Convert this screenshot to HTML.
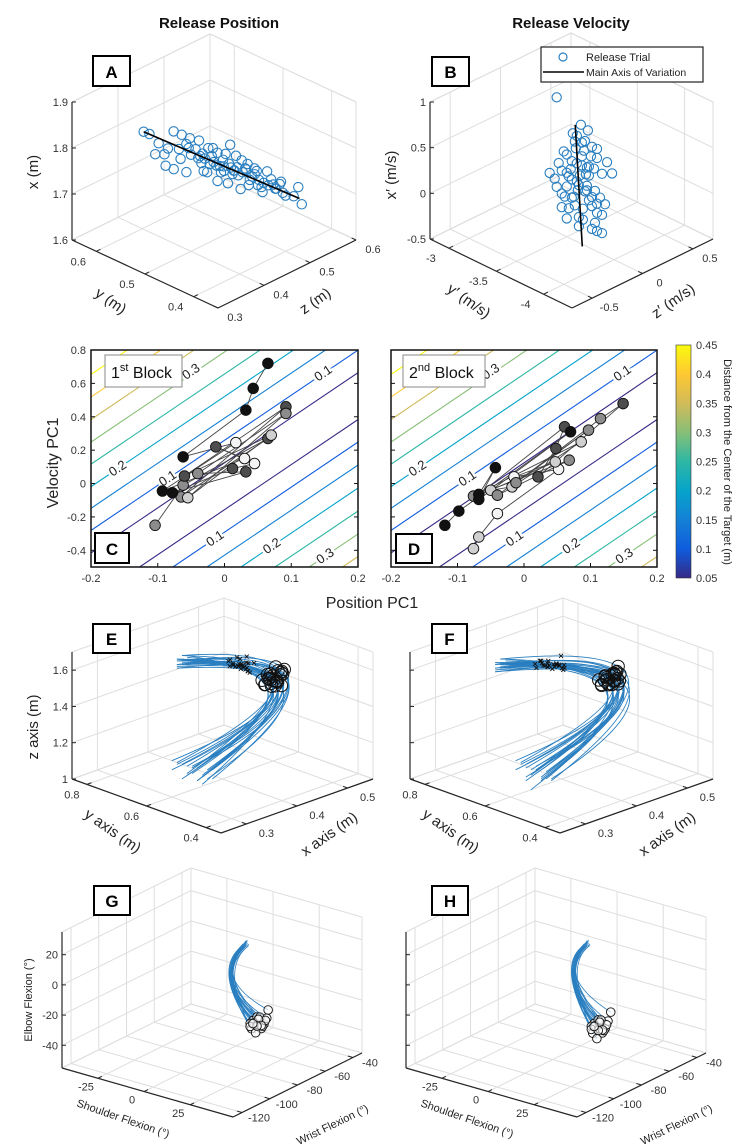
<!DOCTYPE html>
<html><head><meta charset="utf-8">
<style>
html,body{margin:0;padding:0;background:#fff;}
svg{display:block;font-family:"Liberation Sans",sans-serif;}
.tk{font-size:11px;fill:#333;}
.al{font-size:15px;fill:#222;}
.ttl{font-size:15px;font-weight:bold;fill:#111;}
.lt{font-size:17px;font-weight:bold;fill:#000;}
</style></head>
<body>
<svg id="fig" width="750" height="1147" viewBox="0 0 750 1147">
<defs>
<linearGradient id="parula" x1="0" y1="1" x2="0" y2="0">
<stop offset="0" stop-color="#352a87"/><stop offset="0.125" stop-color="#0f5cdd"/><stop offset="0.25" stop-color="#1481d6"/><stop offset="0.375" stop-color="#06a4ca"/><stop offset="0.5" stop-color="#2eb7a4"/><stop offset="0.625" stop-color="#87bf77"/><stop offset="0.75" stop-color="#d1bb59"/><stop offset="0.875" stop-color="#fec832"/><stop offset="1" stop-color="#f9fb0e"/>
</linearGradient>
<clipPath id="clipC"><rect x="91" y="350" width="267" height="217"/></clipPath>
<clipPath id="clipD"><rect x="391" y="350" width="266" height="217"/></clipPath>
</defs>
<text class="ttl" x="219" y="28" text-anchor="middle">Release Position</text>
<text class="ttl" x="571" y="28" text-anchor="middle">Release Velocity</text>
<g id="gA"></g>
<g id="gB"></g>
<g id="gC"></g>
<g id="gD"></g>
<g id="gE"></g>
<g id="gF"></g>
<g id="gG"></g>
<g id="gH"></g>
<g id="labels">
<text class="al" transform="translate(38,172) rotate(-90)" text-anchor="middle">x (m)</text>
<text class="al" transform="translate(108,305) rotate(35)" text-anchor="middle">y (m)</text>
<text class="al" transform="translate(318,305) rotate(-35)" text-anchor="middle">z (m)</text>
<text class="al" transform="translate(396,175) rotate(-90)" text-anchor="middle">x′ (m/s)</text>
<text class="al" transform="translate(466,305) rotate(35)" text-anchor="middle">y′ (m/s)</text>
<text class="al" transform="translate(676,305) rotate(-35)" text-anchor="middle">z′ (m/s)</text>
<text style="font-size:16px;fill:#222" transform="translate(58,463) rotate(-90)" text-anchor="middle">Velocity PC1</text>
<text style="font-size:16px;fill:#222" x="372" y="608" text-anchor="middle">Position PC1</text>
<text style="font-size:11px;fill:#222" transform="translate(724,462) rotate(90)" text-anchor="middle">Distance from the Center of the Target (m)</text>
<text class="al" transform="translate(38,727) rotate(-90)" text-anchor="middle">z axis (m)</text>
<text class="al" transform="translate(110,835) rotate(35)" text-anchor="middle">y axis (m)</text>
<text class="al" transform="translate(332,838) rotate(-35)" text-anchor="middle">x axis (m)</text>
<text class="al" transform="translate(448,835) rotate(35)" text-anchor="middle">y axis (m)</text>
<text class="al" transform="translate(670,838) rotate(-35)" text-anchor="middle">x axis (m)</text>
<text style="font-size:11px;fill:#222" transform="translate(32,1000) rotate(-90)" text-anchor="middle">Elbow Flexion (°)</text>
<text style="font-size:11px;fill:#222" transform="translate(122,1122) rotate(19)" text-anchor="middle">Shoulder Flexion (°)</text>
<text style="font-size:11px;fill:#222" transform="translate(334,1128) rotate(-26)" text-anchor="middle">Wrist Flexion (°)</text>
<text style="font-size:11px;fill:#222" transform="translate(466,1122) rotate(19)" text-anchor="middle">Shoulder Flexion (°)</text>
<text style="font-size:11px;fill:#222" transform="translate(678,1128) rotate(-26)" text-anchor="middle">Wrist Flexion (°)</text>
</g>
<g>
<rect x="541" y="47" width="162" height="35" fill="#fff" stroke="#222" stroke-width="1.2"/>
<circle cx="563" cy="57" r="4" fill="none" stroke="#2a7fc0" stroke-width="1.2"/>
<text x="586" y="61" style="font-size:11px;fill:#222">Release Trial</text>
<line x1="543" y1="72" x2="584" y2="72" stroke="#000" stroke-width="1.5"/>
<text x="586" y="76" style="font-size:10.5px;fill:#222">Main Axis of Variation</text>
</g>
<g>
<rect x="93" y="56" width="37" height="30" fill="#fff" stroke="#000" stroke-width="2"/><text class="lt" x="111.5" y="78" text-anchor="middle">A</text>
<rect x="432" y="57" width="37" height="29" fill="#fff" stroke="#000" stroke-width="2"/><text class="lt" x="450.5" y="78" text-anchor="middle">B</text>
<rect x="95" y="533" width="34" height="30" fill="#fff" stroke="#000" stroke-width="2"/><text class="lt" x="112" y="555" text-anchor="middle">C</text>
<rect x="396" y="534" width="36" height="29" fill="#fff" stroke="#000" stroke-width="2"/><text class="lt" x="414" y="555" text-anchor="middle">D</text>
<rect x="93" y="624" width="37" height="29" fill="#fff" stroke="#000" stroke-width="2"/><text class="lt" x="111.5" y="645" text-anchor="middle">E</text>
<rect x="432" y="624" width="35" height="29" fill="#fff" stroke="#000" stroke-width="2"/><text class="lt" x="449.5" y="645" text-anchor="middle">F</text>
<rect x="94" y="886" width="36" height="29" fill="#fff" stroke="#000" stroke-width="2"/><text class="lt" x="112" y="907" text-anchor="middle">G</text>
<rect x="432" y="886" width="36" height="29" fill="#fff" stroke="#000" stroke-width="2"/><text class="lt" x="450" y="907" text-anchor="middle">H</text>
</g>
</svg>
<script>
// ---------- Panel A data (release position) ----------
const yA=[0.55,0.54,0.54,0.53,0.53,0.53,0.52,0.52,0.52,0.52,0.51,0.51,0.51,0.51,0.50,0.50,0.50,0.50,0.50,0.49,0.49,0.49,0.49,0.49,0.48,0.48,0.48,0.48,0.48,0.48,0.47,0.47,0.47,0.47,0.47,0.47,0.46,0.46,0.46,0.46,0.46,0.45,0.45,0.45,0.45,0.45,0.44,0.44,0.44,0.44,0.43,0.43,0.43,0.43,0.42,0.42,0.42,0.41,0.41,0.40,
 0.50,0.49,0.48,0.47,0.46,0.45,0.44,0.43,0.49,0.47,0.45,0.48,0.46,0.44,0.50,0.52,0.42,0.47,0.45,0.43];
const zA=[0.350,0.372,0.352,0.394,0.354,0.374,0.401,0.371,0.411,0.366,0.408,0.388,0.428,0.373,0.410,0.430,0.395,0.420,0.390,0.437,0.412,0.447,0.417,0.427,0.454,0.414,0.444,0.424,0.464,0.434,0.461,0.431,0.466,0.426,0.451,0.471,0.448,0.468,0.438,0.478,0.458,0.485,0.455,0.480,0.465,0.495,0.482,0.502,0.462,0.492,0.484,0.509,0.494,0.519,0.501,0.521,0.511,0.528,0.538,0.535,
 0.425,0.405,0.450,0.440,0.470,0.475,0.490,0.500,0.430,0.455,0.490,0.428,0.452,0.475,0.400,0.395,0.515,0.438,0.470,0.505];
const xA=[1.860,1.829,1.859,1.849,1.819,1.809,1.843,1.828,1.818,1.793,1.837,1.802,1.822,1.787,1.817,1.787,1.827,1.797,1.777,1.811,1.791,1.796,1.771,1.816,1.795,1.775,1.760,1.805,1.810,1.780,1.760,1.785,1.790,1.755,1.780,1.745,1.764,1.784,1.749,1.759,1.774,1.763,1.733,1.748,1.773,1.733,1.733,1.753,1.743,1.713,1.742,1.717,1.732,1.722,1.726,1.701,1.736,1.701,1.716,1.685,
 1.800,1.805,1.770,1.770,1.757,1.743,1.725,1.742,1.780,1.770,1.755,1.790,1.770,1.760,1.810,1.815,1.710,1.795,1.780,1.728];
const axisA={y:[0.55,0.40],z:[0.35,0.53],x:[1.86,1.70]};
// ---------- Panel B data (release velocity) ----------
const yB=-3.5;
const zB=[0.12,0.05,0.2,-0.05,0.0,0.15,0.25,0.1,0.3,-0.1,0.18,0.08,-0.02,0.22,0.35,0.28,0.0,0.12,0.25,0.3,0.35,0.05,-0.08,0.15,0.1,0.2,0.02,-0.05,0.3,0.4,0.13,0.07,0.17,0.27,-0.12,0.22,0.09,0.0,0.33,0.16,0.04,0.24,0.11,0.19,-0.03,0.06,0.21,0.45,0.14,0.38,0.3,0.35,0.25,-0.17,-0.1,
 0.1,0.2,0.0,0.15,0.25,0.05,0.18,0.3,0.08,0.12,-0.05,0.22,0.28,0.02,0.16];
const xB=[0.0,0.1,0.15,0.25,0.4,0.45,0.35,0.55,0.2,0.1,-0.1,-0.2,-0.05,0.05,0.0,-0.15,-0.3,-0.35,-0.3,-0.4,-0.45,0.3,0.35,0.2,0.25,-0.05,0.15,-0.15,0.3,0.1,0.1,-0.1,0.35,0.1,0.2,-0.22,0.42,0.05,-0.25,-0.28,0.22,0.25,-0.05,0.08,0.45,0.6,0.55,-0.05,0.65,-0.35,-0.6,-0.65,-0.55,0.29,1.08,
 0.05,-0.1,0.2,0.3,-0.2,-0.1,0.45,-0.3,0.5,-0.45,0.0,0.15,-0.5,-0.2,-0.4];
const axisB={z:[0.084,0.154],x:[0.68,-0.69]};
// ---------- Panels C & D data ----------
const posTicks=[-0.2,-0.1,0,0.1,0.2];
const velTicks=[-0.4,-0.2,0,0.2,0.4,0.6,0.8];
const levels=[0.05,0.1,0.15,0.2,0.25,0.3,0.35,0.4,0.45];
const interceptUpper=[-0.046,-0.096,-0.145,-0.193,-0.243,-0.292,-0.342,-0.392,-0.442];
const interceptLower=[0.058,0.108,0.159,0.21,0.261,0.312,0.362,0.412,0.462];
const contourSlope=2.7;
const labelText=['0.2','0.1','0.1','0.1','0.2','0.3','0.3'];
const labelPos=[-0.16,-0.085,0.148,-0.014,0.071,0.151,-0.05];
const labelVel=[0.09,0.03,0.66,-0.33,-0.375,-0.435,0.67];
const posC=[-0.104,-0.062,0.065,-0.065,0.092,-0.06,0.07,-0.055,0.092,-0.04,0.032,-0.078,0.012,0.045,-0.013,0.03,-0.093,0.017,-0.062,0.032,0.043,0.065];
const velC=[-0.25,-0.01,0.27,-0.08,0.46,0.045,0.29,-0.085,0.42,0.06,0.07,-0.055,0.09,0.12,0.22,0.15,-0.045,0.245,0.16,0.44,0.57,0.72];
const shadeC=[2,2,1,2,1,1,3,3,2,2,1,0,1,4,1,4,0,4,0,0,0,0];
const posD=[-0.076,-0.068,-0.04,0.052,-0.015,0.047,-0.05,-0.018,0.086,-0.076,0.068,-0.04,0.097,-0.012,0.115,0.149,0.021,0.048,0.061,-0.068,-0.043,-0.068,0.07,-0.098,-0.119];
const velD=[-0.39,-0.32,-0.18,0.085,0.04,0.13,-0.04,-0.02,0.25,-0.075,0.14,-0.07,0.32,0.005,0.389,0.479,0.04,0.21,0.34,-0.065,0.095,-0.095,0.31,-0.165,-0.25];
const shadeD=[3,3,4,4,4,3,3,3,3,2,2,2,2,2,2,1,1,1,1,0,0,0,0,0,0];
const cbTicks=[0.05,0.1,0.15,0.2,0.25,0.3,0.35,0.4,0.45];
// ---------- Panels E & F data (hand trajectories) ----------
const trajY=0.6;
const topXE=[.31,.32,.31,.33,.32,.31,.32,.33,.31,.32,.33,.32,.31,.32,.33,.31,.32,.32,.31,.33,.32,.31,.33,.32,.31];
const topZE=[1.74,1.73,1.72,1.75,1.71,1.74,1.76,1.72,1.70,1.73,1.74,1.71,1.75,1.72,1.73,1.70,1.74,1.76,1.71,1.72,1.73,1.75,1.70,1.74,1.72];
const apexXE=[.50,.51,.52,.49,.53,.50,.51,.52,.50,.53,.49,.51,.52,.50,.51,.53,.50,.52,.51,.49,.52,.50,.53,.51,.50];
const apexZE=[1.40,1.38,1.42,1.36,1.40,1.44,1.39,1.37,1.41,1.43,1.38,1.40,1.36,1.42,1.39,1.41,1.37,1.43,1.40,1.38,1.42,1.39,1.41,1.36,1.40];
const endXE=[.32,.34,.36,.30,.38,.33,.35,.37,.31,.36,.34,.33,.37,.35,.32,.38,.30,.36,.34,.33,.35,.31,.37,.34,.36];
const endZE=[1.08,1.12,1.05,1.15,1.02,1.10,1.04,1.13,1.18,1.06,1.09,1.14,1.03,1.11,1.16,1.07,1.20,1.05,1.12,1.09,1.04,1.17,1.08,1.13,1.01];
const relTE=[.42,.40,.44,.38,.41,.43,.39,.45,.40,.42,.37,.44,.41,.39,.43,.40,.42,.38,.44,.41,.40,.43,.39,.42,.41];
const markTE=[.18,.22,.15,.25,.20,.17,.23,.19,.21,.16,.24,.18,.20,.22,.17,.19,.23,.21,.16,.25,.18,.20,.22,.17,.19];
const topXF=[.27,.28,.27,.29,.28,.27,.28,.29,.27,.28,.29,.28,.27,.28,.29,.27,.28,.28,.27,.29,.28,.27,.29,.28,.27];
const topZF=[1.76,1.75,1.74,1.77,1.73,1.76,1.78,1.74,1.72,1.75,1.76,1.73,1.77,1.74,1.75,1.72,1.76,1.78,1.73,1.74,1.75,1.77,1.72,1.76,1.74];
const apexXF=[.50,.52,.51,.49,.53,.51,.50,.52,.50,.52,.49,.51,.53,.50,.51,.52,.50,.53,.51,.49,.52,.50,.52,.51,.50];
const apexZF=[1.41,1.39,1.43,1.37,1.40,1.44,1.38,1.37,1.42,1.43,1.39,1.40,1.36,1.42,1.40,1.41,1.38,1.43,1.40,1.37,1.42,1.39,1.41,1.37,1.40];
const endXF=[.33,.35,.37,.31,.38,.34,.36,.37,.32,.36,.35,.33,.38,.35,.33,.37,.31,.36,.34,.33,.36,.32,.37,.35,.34];
const endZF=[1.06,1.10,1.03,1.14,1.01,1.08,1.03,1.12,1.17,1.05,1.08,1.13,1.02,1.10,1.15,1.06,1.19,1.04,1.11,1.08,1.03,1.16,1.07,1.12,1.00];
const relTF=[.40,.42,.43,.39,.41,.44,.40,.43,.41,.42,.38,.44,.41,.40,.43,.41,.42,.39,.44,.40,.41,.43,.40,.42,.42];
const markTF=[.12,.15,.10,.18,.14,.11,.16,.13,.15,.10,.17,.12,.14,.16,.11,.13,.17,.15,.10,.18,.12,.14,.16,.11,.13];
// ---------- Panels G & H data (joint angles) ----------
const shoulderFix=0;
const startWG=[-53,-55,-52,-54,-56,-53,-51,-55,-54,-52,-57,-53,-54,-55,-52,-53,-56,-54,-51,-55];
const startEG=[9,8,10,7,9,11,8,10,6,9,8,10,7,9,11,8,9,10,7,8];
const midWG=[-63,-64,-62,-63,-65,-62,-63,-64,-61,-63,-64,-62,-63,-65,-62,-63,-64,-62,-63,-64];
const midEG=[-10,-12,-9,-11,-8,-13,-10,-9,-12,-11,-10,-8,-12,-9,-11,-10,-13,-9,-11,-10];
const endWG=[-44,-48,-40,-46,-50,-42,-38,-45,-49,-41,-47,-43,-39,-46,-44,-50,-42,-37,-45,-48];
const endEG=[-46,-44,-50,-48,-45,-52,-47,-43,-49,-51,-46,-44,-48,-53,-45,-47,-50,-42,-49,-46];
const startWH=[-55,-57,-54,-56,-58,-55,-53,-57,-56,-54,-59,-55,-56,-57,-54,-55,-58,-56,-53,-57];
const startEH=[10,9,11,8,10,12,9,11,7,10,9,11,8,10,12,9,10,11,8,9];
const midWH=[-64,-65,-63,-64,-66,-63,-64,-65,-62,-64,-65,-63,-64,-66,-63,-64,-65,-63,-64,-65];
const midEH=[-9,-11,-8,-10,-7,-12,-9,-8,-11,-10,-9,-7,-11,-8,-10,-9,-12,-8,-10,-9];
const endWH=[-46,-50,-42,-48,-52,-44,-40,-47,-51,-43,-49,-45,-41,-48,-46,-52,-44,-38,-47,-50];
const endEH=[-47,-45,-52,-49,-46,-54,-48,-44,-51,-53,-47,-45,-50,-56,-46,-48,-52,-43,-51,-47];

const NS='http://www.w3.org/2000/svg';
function mk(tag,attrs,parent){const e=document.createElementNS(NS,tag);for(const k in attrs)e.setAttribute(k,attrs[k]);parent.appendChild(e);return e;}
const GRID='#dedede',AX='#262626',BLUE='#2a7fc0';
function P(b,u,v,w){return [b.L[0]+u*(b.F[0]-b.L[0])+v*(b.R[0]-b.F[0]), b.L[1]+u*(b.F[1]-b.L[1])+v*(b.R[1]-b.F[1])-w*b.H];}
function seg(g,a,c,col,sw){return mk('line',{x1:a[0],y1:a[1],x2:c[0],y2:c[1],stroke:col,'stroke-width':sw},g);}

function drawBox(g,b,noWLabels){
  const us=[0,1].concat(b.uT.map(t=>t.f)), vs=[0,1].concat(b.vT.map(t=>t.f)), ws=[0,1].concat(b.wT.map(t=>t.f));
  us.forEach(u=>{
    let e=seg(g,P(b,u,0,0),P(b,u,1,0),GRID,1);
    
    
    e=seg(g,P(b,u,1,0),P(b,u,1,1),GRID,1);
    
    
  });
  vs.forEach(v=>{
    let e=seg(g,P(b,0,v,0),P(b,1,v,0),GRID,1);
    
    
    e=seg(g,P(b,0,v,0),P(b,0,v,1),GRID,1);
    
    
  });
  ws.forEach(w=>{
    let e=seg(g,P(b,0,0,w),P(b,0,1,w),GRID,1);
    
    
    e=seg(g,P(b,0,1,w),P(b,1,1,w),GRID,1);
    
    
  });
  let e=seg(g,P(b,0,0,0),P(b,0,0,1),AX,1.2);
  
  
  e=seg(g,P(b,0,0,0),P(b,1,0,0),AX,1.2);
  
  
  e=seg(g,P(b,1,0,0),P(b,1,1,0),AX,1.2);
  
  
  const fs=b.fs||11;
  b.wT.forEach(t=>{
    const p=P(b,0,0,t.f);
    let k=seg(g,p,[p[0]+4,p[1]],AX,1);
    
    
    if(!noWLabels){
      const tx=mk('text',{x:p[0]-4,y:p[1]+4,'text-anchor':'end',class:'tk','font-size':fs},g);
      tx.textContent=t.l;
      
      
    }
  });
  b.uT.forEach(t=>{
    const p=P(b,t.f,0,0);
    let k=seg(g,p,[p[0]+(b.R[0]-b.F[0])*0.03,p[1]+(b.R[1]-b.F[1])*0.03],AX,1);
    
    
    const tx=mk('text',{x:p[0]+b.uo[0],y:p[1]+b.uo[1],'text-anchor':'middle',class:'tk','font-size':fs},g);
    tx.textContent=t.l;
    
    
  });
  b.vT.forEach(t=>{
    const p=P(b,1,t.f,0);
    let k=seg(g,p,[p[0]-(b.F[0]-b.L[0])*0.03,p[1]-(b.F[1]-b.L[1])*0.03],AX,1);
    
    
    const tx=mk('text',{x:p[0]+b.vo[0],y:p[1]+b.vo[1],'text-anchor':'middle',class:'tk','font-size':fs},g);
    tx.textContent=t.l;
    
    
  });
}

// ---------- Panel A ----------
const bA={L:[72,240],F:[218,308],R:[356,240],H:138,uo:[-18,14],vo:[17,13],
  uT:[{f:1/6,l:'0.6'},{f:0.5,l:'0.5'},{f:5/6,l:'0.4'}],
  vT:[{f:0,l:'0.3'},{f:1/3,l:'0.4'},{f:2/3,l:'0.5'},{f:1,l:'0.6'}],
  wT:[{f:0,l:'1.6'},{f:1/3,l:'1.7'},{f:2/3,l:'1.8'},{f:1,l:'1.9'}]};
const gA=document.getElementById('gA');
drawBox(gA,bA);
function pA(y,z,x){return P(bA,(0.65-y)/0.3,(z-0.3)/0.3,(x-1.6)/0.3);}
for(let i=0;i<yA.length;i++){
  const p=pA(yA[i],zA[i],xA[i]);
  const c=mk('circle',{cx:p[0],cy:p[1],r:4.7,fill:'none',stroke:BLUE,'stroke-width':1.1},gA);
  
  
}
{const a=pA(axisA.y[0],axisA.z[0],axisA.x[0]),b=pA(axisA.y[1],axisA.z[1],axisA.x[1]);
 const l=seg(gA,a,b,'#000',1.6);
 
 }

// ---------- Panel B ----------
const bB={L:[430,239],F:[572,308],R:[713,239],H:137,uo:[-18,14],vo:[17,13],
  uT:[{f:0.133,l:'-3'},{f:0.467,l:'-3.5'},{f:0.8,l:'-4'}],
  vT:[{f:0.143,l:'-0.5'},{f:0.5,l:'0'},{f:0.857,l:'0.5'}],
  wT:[{f:0,l:'-0.5'},{f:1/3,l:'0'},{f:2/3,l:'0.5'},{f:1,l:'1'}]};
const gB=document.getElementById('gB');
drawBox(gB,bB);
function pB(y,z,x){return P(bB,(-2.8-y)/1.5,(z+0.7)/1.4,(x+0.5)/1.5);}
for(let i=0;i<zB.length;i++){
  const p=pB(yB,zB[i],xB[i]);
  const c=mk('circle',{cx:p[0],cy:p[1],r:4.6,fill:'none',stroke:BLUE,'stroke-width':1.1},gB);
  
  
}
{const a=pB(yB,axisB.z[0],axisB.x[0]),b=pB(yB,axisB.z[1],axisB.x[1]);
 const l=seg(gB,a,b,'#000',1.6);
 
 }

// ---------- Panels C & D ----------
const parula=['#352a87','#0f5cdd','#1481d6','#06a4ca','#2eb7a4','#87bf77','#d1bb59','#fec832','#f9fb0e'];
const shadeCol=['#111111','#4d4d4d','#8c8c8c','#d0d0d0','#f4f4f4'];
function drawPC(g,x0,x1,clip,pos,vel,shade,showY,blockNum,blockSup){
  const sx=p=>x0+(p+0.2)/0.4*(x1-x0);
  const sy=v=>350+(0.8-v)/1.3*217;
  const cg=mk('g',{'clip-path':'url(#'+clip+')'},g);
  
  
  const addLine=(c,lv)=>{
    const pa=c+(-0.5)/contourSlope, pb=c+0.8/contourSlope;
    const l=mk('line',{x1:sx(pa),y1:sy(-0.5),x2:sx(pb),y2:sy(0.8),stroke:parula[levels.indexOf(lv)],'stroke-width':1.1},cg);
    
    
  };
  levels.forEach((lv,i)=>{addLine(interceptUpper[i],lv);addLine(interceptLower[i],lv);});
  const ang=-Math.atan((contourSlope*217/1.3)/((x1-x0)/0.4))*180/Math.PI;
  labelText.forEach((s,i)=>{
    const x=sx(labelPos[i]),y=sy(labelVel[i]);
    const t=mk('text',{x:0,y:4,transform:'translate('+x+','+y+') rotate('+ang+')','text-anchor':'middle','font-size':13,fill:'#222',stroke:'#fff','stroke-width':5,'paint-order':'stroke'},cg);
    t.textContent=s;
    
    
  });
  for(let i=1;i<pos.length;i++){
    const l=mk('line',{x1:sx(pos[i-1]),y1:sy(vel[i-1]),x2:sx(pos[i]),y2:sy(vel[i]),stroke:'#444','stroke-width':0.9},g);
    
    
  }
  for(let i=0;i<pos.length;i++){
    const c=mk('circle',{cx:sx(pos[i]),cy:sy(vel[i]),r:5.3,fill:shadeCol[shade[i]],stroke:'#111','stroke-width':0.9},g);
    
    
  }
  const fr=mk('rect',{x:x0,y:350,width:x1-x0,height:217,fill:'none',stroke:'#111','stroke-width':1.5},g);
  
  
  posTicks.forEach(p=>{
    const k=mk('line',{x1:sx(p),y1:567,x2:sx(p),y2:563,stroke:'#111'},g);
    
    
    const t=mk('text',{x:sx(p),y:582,'text-anchor':'middle',class:'tk','font-size':12},g);
    t.textContent=p===0?'0':String(p);
    
    
  });
  velTicks.forEach(v=>{
    const k=mk('line',{x1:x0,y1:sy(v),x2:x0+4,y2:sy(v),stroke:'#111'},g);
    
    
    const k2=mk('line',{x1:x1,y1:sy(v),x2:x1-4,y2:sy(v),stroke:'#111'},g);
    
    
    if(showY){
      const t=mk('text',{x:x0-5,y:sy(v)+4,'text-anchor':'end',class:'tk','font-size':12},g);
      t.textContent=v===0?'0':String(v);
      
      
    }
  });
  const bx=x0+(blockSup==='st'?14:12);
  const br=mk('rect',{x:bx,y:355,width:blockSup==='st'?77:82,height:32,fill:'#fff',stroke:'#888','stroke-width':1},g);
  
  
  const bt=mk('text',{x:bx+6,y:378,'font-size':16,fill:'#111'},g);
  
  
  bt.innerHTML=blockNum+'<tspan dy="-7" font-size="11">'+blockSup+'</tspan><tspan dy="7"> Block</tspan>';
}
drawPC(document.getElementById('gC'),91,358,'clipC',posC,velC,shadeC,true,'1','st');
drawPC(document.getElementById('gD'),391,657,'clipD',posD,velD,shadeD,false,'2','nd');
{
  const g=document.getElementById('gD');
  const cb=mk('rect',{x:676,y:345,width:15,height:233,fill:'url(#parula)',stroke:'#333','stroke-width':0.6},g);
  
  
  cbTicks.forEach(v=>{
    const y=578-(v-0.05)/0.4*233;
    const t=mk('text',{x:696,y:y+4,class:'tk','font-size':12},g);
    t.textContent=String(v);
    
    
  });
}

// ---------- Panels E & F ----------
function drawTraj(g,b,topX,topZ,apexX,apexZ,endX,endZ,relT,markT,showW){
  drawBox(g,b,!showW);
  const pr=(x,z)=>P(b,(0.85-trajY)/0.5,(x-0.25)/0.3,(z-1)/0.7);
  const circles=[],marks=[];
  for(let i=0;i<topX.length;i++){
    const T=pr(topX[i],topZ[i]),A=pr(apexX[i],apexZ[i]),B=pr(endX[i],endZ[i]);
    const C=[2*A[0]-(T[0]+B[0])/2,2*A[1]-(T[1]+B[1])/2];
    const q=t=>[(1-t)*(1-t)*T[0]+2*t*(1-t)*C[0]+t*t*B[0],(1-t)*(1-t)*T[1]+2*t*(1-t)*C[1]+t*t*B[1]];
    const p=mk('path',{d:'M'+T[0]+','+T[1]+' Q'+C[0]+','+C[1]+' '+B[0]+','+B[1],fill:'none',stroke:BLUE,'stroke-width':0.9},g);
    
    
    circles.push(q(relT[i]));marks.push(q(markT[i]));
  }
  marks.forEach(m=>{
    const x=mk('path',{d:'M'+(m[0]-2)+','+(m[1]-2)+'l4,4M'+(m[0]-2)+','+(m[1]+2)+'l4,-4',stroke:'#111','stroke-width':0.9},g);
    
    
  });
  circles.forEach(c=>{
    const e=mk('circle',{cx:c[0],cy:c[1],r:6.2,fill:'none',stroke:'#111','stroke-width':1},g);
    
    
  });
}
const ticksE={uT:[{f:0.1,l:'0.8'},{f:0.5,l:'0.6'},{f:0.9,l:'0.4'}],vT:[{f:0.167,l:'0.3'},{f:0.5,l:'0.4'},{f:0.833,l:'0.5'}],
  wT:[{f:0,l:'1'},{f:0.286,l:'1.2'},{f:0.571,l:'1.4'},{f:0.857,l:'1.6'}]};
const bE=Object.assign({L:[72,779],F:[221,833],R:[373,779],H:127,uo:[-15,14],vo:[20,13],fs:12},ticksE);
const bF=Object.assign({L:[410,779],F:[560,833],R:[713,779],H:127,uo:[-15,14],vo:[20,13],fs:12},ticksE);
drawTraj(document.getElementById('gE'),bE,topXE,topZE,apexXE,apexZE,endXE,endZE,relTE,markTE,true);
drawTraj(document.getElementById('gF'),bF,topXF,topZF,apexXF,apexZF,endXF,endZF,relTF,markTF,false);

// ---------- Panels G & H ----------
function drawJoint(g,b,sW,sE,mW,mE,eW,eE,showW){
  drawBox(g,b,!showW);
  const pr=(wr,el)=>P(b,(shoulderFix+44.4)/92.6,(wr+126.5)/93,(el+55.2)/90);
  const ends=[];
  for(let i=0;i<sW.length;i++){
    const S=pr(sW[i],sE[i]),M=pr(mW[i],mE[i]),E=pr(eW[i],eE[i]);
    const C=[2*M[0]-(S[0]+E[0])/2,2*M[1]-(S[1]+E[1])/2];
    const p=mk('path',{d:'M'+S[0]+','+S[1]+' Q'+C[0]+','+C[1]+' '+E[0]+','+E[1],fill:'none',stroke:BLUE,'stroke-width':0.8},g);
    
    
    ends.push(E);
  }
  ends.forEach(c=>{
    const e=mk('circle',{cx:c[0],cy:c[1],r:4.3,fill:'#fff','fill-opacity':0.6,stroke:'#111','stroke-width':0.9},g);
    
    
  });
}
const ticksG={uT:[{f:0.21,l:'-25'},{f:0.48,l:'0'},{f:0.75,l:'25'}],
  vT:[{f:0.07,l:'-120'},{f:0.285,l:'-100'},{f:0.5,l:'-80'},{f:0.715,l:'-60'},{f:0.93,l:'-40'}],
  wT:[{f:0.167,l:'-40'},{f:0.389,l:'-20'},{f:0.611,l:'0'},{f:0.833,l:'20'}]};
const bG=Object.assign({L:[62,1068],F:[233,1117],R:[362,1053],H:136,uo:[-12,12],vo:[17,9],fs:10},ticksG);
const bH=Object.assign({L:[406,1068],F:[577,1117],R:[706,1053],H:136,uo:[-12,12],vo:[17,9],fs:10},ticksG);
drawJoint(document.getElementById('gG'),bG,startWG,startEG,midWG,midEG,endWG,endEG,true);
drawJoint(document.getElementById('gH'),bH,startWH,startEH,midWH,midEH,endWH,endEH,false);
</script>
</body></html>
